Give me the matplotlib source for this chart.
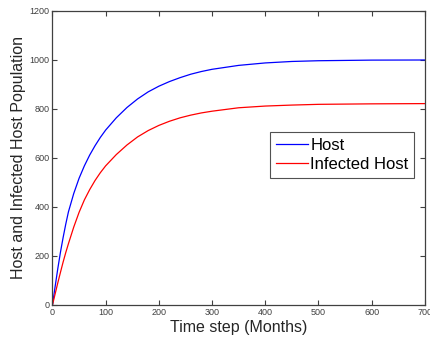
import matplotlib
matplotlib.use("Agg")
import matplotlib.pyplot as plt

# Data
months = [0, 5, 10, 15, 20, 25, 30, 40, 50, 60, 70, 80, 90, 100, 120, 140,
          160, 180, 200, 220, 240, 260, 280, 300, 350, 400, 450, 500, 600, 700]
host = [0, 75, 148, 215, 275, 330, 380, 455, 517, 568, 612, 650, 684, 714,
        764, 806, 841, 870, 893, 912, 928, 942, 953, 962, 978, 988, 994, 997,
        999.5, 1000]
infected = [0, 45, 90, 133, 175, 214, 250, 318, 378, 429, 471, 508, 540, 568,
            614, 653, 686, 712, 733, 750, 764, 775, 784, 791, 805, 812, 816,
            819, 821, 822]
series_names = ["Host", "Infected Host"]
x_ticks = [0, 100, 200, 300, 400, 500, 600, 700]
y_ticks = [0, 200, 400, 600, 800, 1000, 1200]

plt.rcParams['font.family'] = ['Liberation Sans', 'DejaVu Sans']

fig = plt.figure(figsize=(4.30, 3.48), dpi=100)
ax = fig.add_axes([0.122, 0.1236, 0.866, 0.8448])

ax.plot(months, host, color='#0000ff', lw=0.9, label=series_names[0])
ax.plot(months, infected, color='#ff0000', lw=0.9, label=series_names[1])

ax.set_xlim(0, 700)
ax.set_ylim(0, 1200)
ax.set_xticks(x_ticks)
ax.set_yticks(y_ticks)
ax.tick_params(direction='in', top=True, right=True, length=3.5, width=0.8,
               labelsize=6.5, colors='#404040', labelcolor='#404040', pad=2)
for s in ax.spines.values():
    s.set_color('#404040')
    s.set_linewidth(0.9)

ax.set_xlabel("Time step (Months)", fontsize=11.5, color='#262626', labelpad=2)
ax.set_ylabel("Host and Infected Host Population", fontsize=11.5, color='#262626', labelpad=3)

leg = ax.legend(loc='upper right', bbox_to_anchor=(0.972, 0.588), fontsize=12,
                frameon=True, fancybox=False, edgecolor='#262626',
                handlelength=1.9, handletextpad=0.15, borderpad=0.35,
                labelspacing=0.25, borderaxespad=0.0)
leg.get_frame().set_linewidth(0.8)

fig.savefig("out.png", dpi=100)
